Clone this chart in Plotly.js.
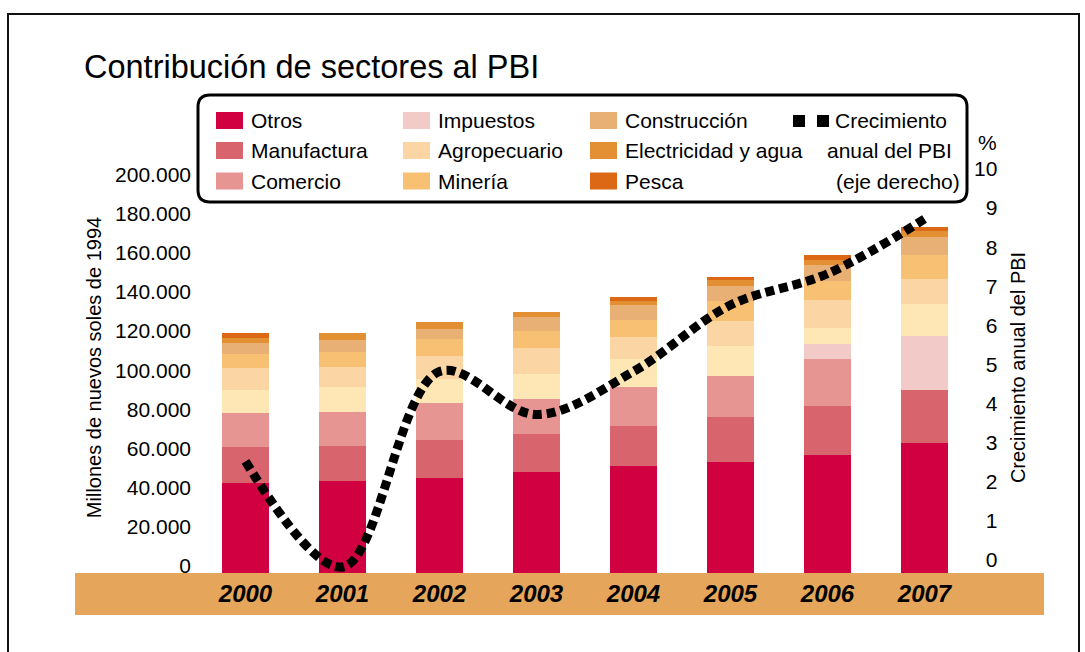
<!DOCTYPE html>
<html>
<head>
<meta charset="utf-8">
<script src="https://cdn.plot.ly/plotly-3.0.1.min.js"></script>
<style>html,body{margin:0;padding:0;background:#fff;}#chart{width:1085px;height:652px;}</style>
</head>
<body>
<div id="chart"></div>
<script>
// ---- data (millones de nuevos soles de 1994; crecimiento en %) ----
const years = ['2000', '2001', '2002', '2003', '2004', '2005', '2006', '2007'];
const otros = [46200, 47100, 48300, 51700, 54800, 56800, 60400, 66500];
const manufactura = [18400, 17900, 19800, 19400, 20400, 23000, 25000, 27100];
const comercio = [17400, 17400, 18900, 17900, 19900, 20900, 24000, 0];
const impuestos = [0, 0, 0, 0, 0, 0, 7700, 27600];
const derechos = [11600, 12800, 12300, 12800, 14300, 15300, 8200, 16300];
const agropecuario = [11200, 10200, 11700, 13300, 11200, 12800, 14300, 12800];
const mineria = [7200, 7700, 8700, 8700, 8700, 10200, 9700, 12300];
const construccion = [5600, 6100, 5100, 7200, 7700, 7700, 8200, 9200];
const electricidad = [2600, 3600, 3600, 2600, 2000, 3100, 2600, 3100];
const pesca = [2400, 0, 0, 0, 2000, 1500, 2600, 2000];
const crecimiento = [2.7, 0.0, 5.0, 3.9, 5.0, 6.7, 7.5, 8.9];

const leftTicks = [0, 20000, 40000, 60000, 80000, 100000, 120000, 140000, 160000, 180000, 200000];
const rightTicks = [0, 1, 2, 3, 4, 5, 6, 7, 8, 9, 10];
const rightTickText = rightTicks.map(v => (v < 10 ? '\u2007' : '') + v);

const legendItems = [
  ['Otros', '#d10040'], ['Manufactura', '#d8646d'], ['Comercio', '#e69593'],
  ['Impuestos', '#f2cbc8'], ['Agropecuario', '#fbd5a3'], ['Minería', '#f8c073'],
  ['Construcción', '#e8b074'], ['Electricidad y agua', '#e39035'], ['Pesca', '#dc6714']
];
const lineLegend = ['Crecimiento', 'anual del PBI', '(eje derecho)'];

// ---- layout helpers (pixel -> paper) ----
const L = 197, R = 112, T = 162, B = 79, W = 1085 - L - R, H = 652 - T - B;
const fx = px => (px - L) / W;
const fy = py => (652 - B - py) / H;
const P = (x, y) => fx(x) + ',' + fy(y);
const FONT = 'Liberation Sans, Arial, sans-serif';

const series = [
  ['Otros', otros, '#d10040'],
  ['Manufactura', manufactura, '#d8646d'],
  ['Comercio', comercio, '#e69593'],
  ['Impuestos', impuestos, '#f2cbc8'],
  ['Derechos de importación', derechos, '#fee7b5'],
  ['Agropecuario', agropecuario, '#fbd5a3'],
  ['Minería', mineria, '#f8c073'],
  ['Construcción', construccion, '#e8b074'],
  ['Electricidad y agua', electricidad, '#e39035'],
  ['Pesca', pesca, '#dc6714']
];

const traces = series.map(([name, vals, color]) => ({
  type: 'bar', name: name, x: years, y: vals, yaxis: 'y',
  marker: {color: color, line: {width: 0}}, showlegend: false
}));
traces.push({
  type: 'scatter', mode: 'lines', name: 'Crecimiento anual del PBI',
  x: years, y: crecimiento, yaxis: 'y2', showlegend: false,
  line: {color: '#000', width: 9, dash: '9px,5px', shape: 'spline', smoothing: 1}
});

const shapes = [];
const annotations = [];
// outer frame
shapes.push({type: 'rect', xref: 'paper', yref: 'paper', x0: fx(8), x1: fx(1079), y0: fy(662), y1: fy(14),
  line: {color: '#111', width: 2}, fillcolor: 'rgba(0,0,0,0)', layer: 'below'});
// category band
shapes.push({type: 'rect', xref: 'paper', yref: 'paper', x0: fx(75), x1: fx(1044), y0: fy(615), y1: fy(573),
  line: {width: 0}, fillcolor: '#e5a65b', layer: 'below'});
// legend box (rounded)
const r = 12, bx0 = 198, bx1 = 967, by0 = 95, by1 = 202;
shapes.push({type: 'path', xref: 'paper', yref: 'paper',
  path: `M${P(bx0 + r, by0)} L${P(bx1 - r, by0)} Q${P(bx1, by0)} ${P(bx1, by0 + r)} L${P(bx1, by1 - r)} Q${P(bx1, by1)} ${P(bx1 - r, by1)} L${P(bx0 + r, by1)} Q${P(bx0, by1)} ${P(bx0, by1 - r)} L${P(bx0, by0 + r)} Q${P(bx0, by0)} ${P(bx0 + r, by0)} Z`,
  line: {color: '#000', width: 3}, fillcolor: '#fff', layer: 'above'});
const rowY = [120.5, 150.5, 181];
const colSw = [216, 403, 590];
const colTx = [249, 436, 623];
legendItems.forEach(([name, color], i) => {
  const c = Math.floor(i / 3), rw = i % 3;
  shapes.push({type: 'rect', xref: 'paper', yref: 'paper',
    x0: fx(colSw[c]), x1: fx(colSw[c] + 27), y0: fy(rowY[rw] + 8.5), y1: fy(rowY[rw] - 8.5),
    line: {width: 0}, fillcolor: color, layer: 'above'});
  annotations.push({xref: 'paper', yref: 'paper', x: fx(colTx[c]), y: fy(rowY[rw]),
    xanchor: 'left', yanchor: 'middle', text: name, showarrow: false,
    font: {family: FONT, size: 21, color: '#000'}});
});
// line legend: two black squares
[[793, 805], [817, 829]].forEach(([a, b]) => {
  shapes.push({type: 'rect', xref: 'paper', yref: 'paper', x0: fx(a), x1: fx(b), y0: fy(127), y1: fy(115),
    line: {width: 0}, fillcolor: '#000', layer: 'above'});
});
const lineTxtX = [949, 954, 962];
lineLegend.forEach((t, i) => {
  annotations.push({xref: 'paper', yref: 'paper', x: fx(lineTxtX[i]), y: fy(rowY[i]),
    xanchor: 'right', yanchor: 'middle', text: t, showarrow: false,
    font: {family: FONT, size: 21, color: '#000'}});
});
// percent sign over right axis
annotations.push({xref: 'paper', yref: 'paper', x: fx(987), y: fy(143), xanchor: 'center', yanchor: 'middle',
  text: '%', showarrow: false, font: {family: FONT, size: 21, color: '#000'}});

const layout = {
  width: 1085, height: 652,
  margin: {l: L, r: R, t: T, b: B, pad: 0},
  paper_bgcolor: '#fff', plot_bgcolor: 'rgba(0,0,0,0)',
  separators: ',.',
  font: {family: FONT, color: '#000'},
  showlegend: false, hovermode: false,
  barmode: 'stack', bargap: 0.515,
  title: {text: 'Contribución de sectores al PBI', xref: 'container', yref: 'container',
    x: 84 / 1085, xanchor: 'left', y: 1 - 67 / 652, yanchor: 'middle',
    font: {family: FONT, size: 32.5, color: '#000'}},
  xaxis: {type: 'category', categoryorder: 'array', categoryarray: years,
    showgrid: false, zeroline: false, showline: false, ticks: '',
    tickfont: {family: FONT, size: 24, weight: 'bold', style: 'italic', color: '#000'},
    ticklabelstandoff: 4},
  yaxis: {range: [0, 210000], tickvals: leftTicks, tickformat: ',d',
    showgrid: false, zeroline: false, showline: false, ticks: '',
    ticklabelshift: -7, ticklabelstandoff: 5, tickfont: {family: FONT, size: 21, color: '#000'},
    title: {text: 'Millones de nuevos soles de 1994', font: {family: FONT, size: 20, color: '#000'}, standoff: 8}},
  yaxis2: {overlaying: 'y', side: 'right', range: [-(573 - 567) / 39.1, (567 - 162) / 39.1],
    tickvals: rightTicks, ticktext: rightTickText,
    showgrid: false, zeroline: false, showline: false, ticks: '',
    ticklabelshift: -7, tickfont: {family: FONT, size: 21, color: '#000'},
    title: {text: 'Crecimiento anual del PBI', font: {family: FONT, size: 20, color: '#000'}, standoff: 14}},
  shapes: shapes,
  annotations: annotations
};

Plotly.newPlot('chart', traces, layout, {staticPlot: true, displayModeBar: false});
</script>
</body>
</html>
